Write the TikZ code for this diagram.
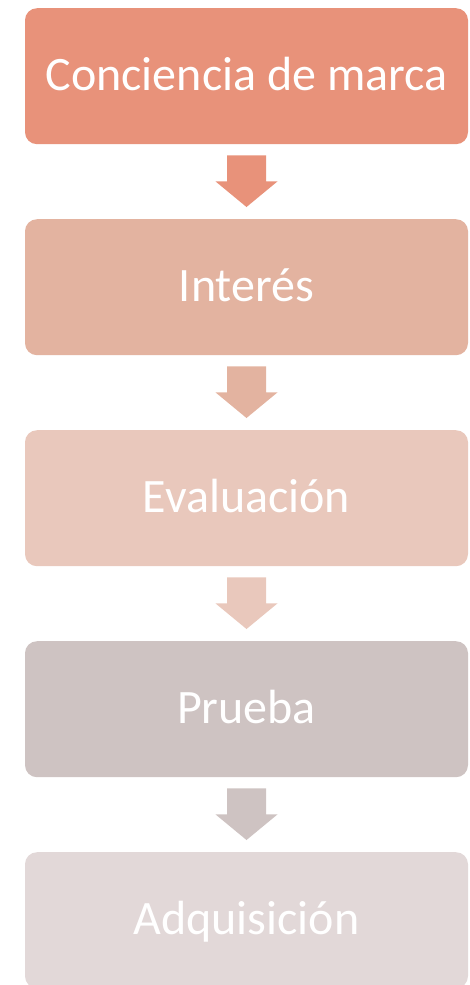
\documentclass[tikz,border=0pt]{standalone}
\usepackage{fontspec}
\setmainfont{Carlito}
\usetikzlibrary{calc}
\definecolor{c1}{HTML}{E8927A}
\definecolor{c2}{HTML}{E3B3A0}
\definecolor{c3}{HTML}{E9C8BC}
\definecolor{c4}{HTML}{CEC3C2}
\definecolor{c5}{HTML}{E2D8D8}
\tikzset{
  stagebox/.style={rectangle, rounded corners=12pt, minimum width=443pt, minimum height=136pt,
    inner sep=0pt, text=white, font=\fontsize{48}{56}\selectfont, anchor=north,
    text height=28pt, text depth=0pt},
}
\newcommand{\downarrowshape}[3]{% from node, to node, color
  \fill[#3] ($(#1.south)+(-19.5,11)$) -- ($(#1.south)+(19.5,11)$) -- ($(#1.south)+(19.5,37)$)
    -- ($(#1.south)+(31,37)$) -- ($(#2.north)+(0,-12)$) -- ($(#1.south)+(-31,37)$)
    -- ($(#1.south)+(-19.5,37)$) -- cycle;
}
\begin{document}
\begin{tikzpicture}[x=1pt,y=-1pt]
\useasboundingbox (0,0) rectangle (469,985);
\clip (0,0) rectangle (469,985);
\node[stagebox, fill=c1] (b1) at (246.5,8) {Conciencia de marca};
\node[stagebox, fill=c2] (b2) at (246.5,219) {Interés};
\node[stagebox, fill=c3] (b3) at (246.5,430) {Evaluación};
\node[stagebox, fill=c4] (b4) at (246.5,641) {Prueba};
\node[stagebox, fill=c5] (b5) at (246.5,852) {Adquisición};
\downarrowshape{b1}{b2}{c1}
\downarrowshape{b2}{b3}{c2}
\downarrowshape{b3}{b4}{c3}
\downarrowshape{b4}{b5}{c4}
\end{tikzpicture}
\end{document}
